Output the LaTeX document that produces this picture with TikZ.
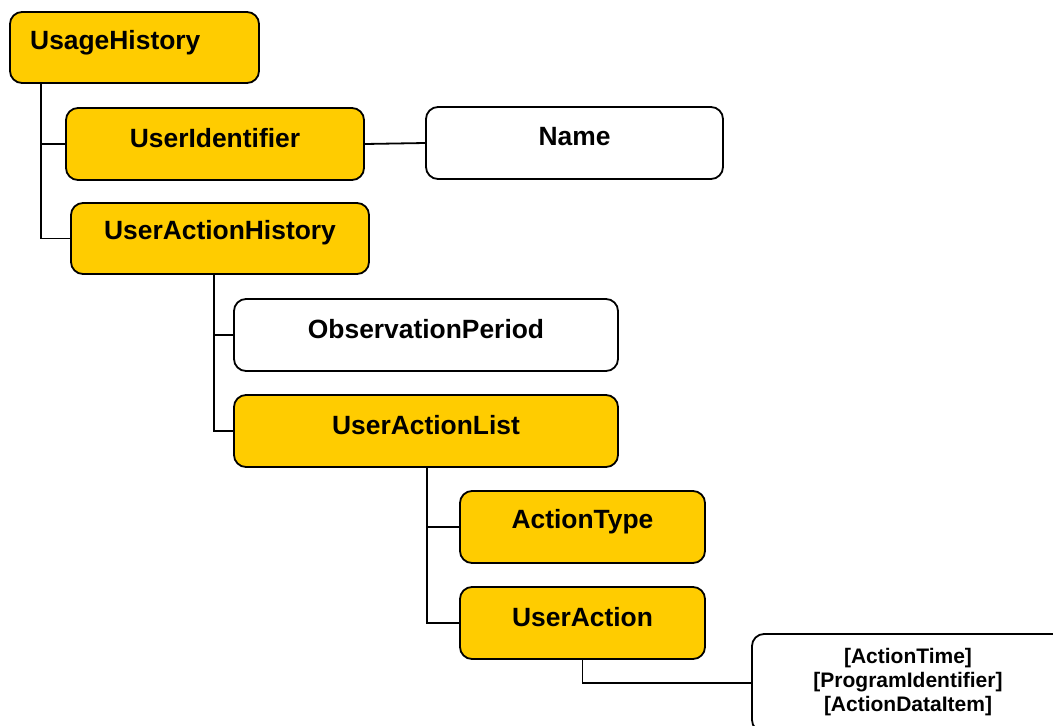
\documentclass[tikz,border=0pt]{standalone}
\usepackage{fontspec}
\setmainfont{Liberation Sans}
\begin{document}
\begin{tikzpicture}[x=1pt, y=-1pt,
  box/.style={draw=black, line width=1.8pt, rounded corners=12pt, inner sep=0pt},
  ybox/.style={box, fill=gold},
  wbox/.style={box, fill=white},
  lbl/.style={font=\fontsize{26.4}{30}\selectfont\bfseries, inner sep=0pt},
  small/.style={font=\fontsize{21}{24}\selectfont\bfseries, inner sep=0pt, align=center},
  link/.style={draw=black, line width=1.8pt}
]
\definecolor{gold}{RGB}{255,204,0}
\useasboundingbox (0,0) rectangle (1053,726);
\clip (0,0) rectangle (1053,726);

% boxes
\node[ybox, minimum width=249pt, minimum height=71pt] (UH) at (134.5,47.5) {};
\node[ybox, minimum width=298pt, minimum height=72pt] (UI) at (215,144) {};
\node[wbox, minimum width=297pt, minimum height=72pt] (NM) at (574.5,143) {};
\node[ybox, minimum width=298pt, minimum height=71pt] (UAH) at (220,238.5) {};
\node[wbox, minimum width=384pt, minimum height=72pt] (OP) at (426,335) {};
\node[ybox, minimum width=384pt, minimum height=72pt] (UAL) at (426,431) {};
\node[ybox, minimum width=245pt, minimum height=72pt] (AT) at (582.5,527) {};
\node[ybox, minimum width=245pt, minimum height=72pt] (UA) at (582.5,623) {};
\node[wbox, minimum width=313pt, minimum height=98pt] (AD) at (908.5,683) {};

% labels
\node[lbl, anchor=west] (tUH) at (30,43) {UsageHistory};
\node[lbl, yshift=6pt] (tUI) at (UI.center) {UserIdentifier};
\node[lbl, yshift=6pt] (tNM) at (NM.center) {Name};
\node[lbl, yshift=5.5pt] (tUAH) at (UAH.center) {UserActionHistory};
\node[lbl, yshift=6pt] (tOP) at (OP.center) {ObservationPeriod};
\node[lbl, yshift=6pt] (tUAL) at (UAL.center) {UserActionList};
\node[lbl, yshift=5pt] (tAT) at (AT.center) {ActionType};
\node[lbl, yshift=6pt] (tUA) at (UA.center) {UserAction};
\node[small] (tAD) at (908,682) {{[ActionTime]}\\{[ProgramIdentifier]}\\{[ActionDataItem]}};

% connectors
\draw[link] ([xshift=32pt]UH.south west) |- (UI.west);
\draw[link] ([xshift=32pt]UH.south west) |- (UAH.west);
\draw[link] (UI.east) -- (NM.west);
\draw[link] ([xshift=144pt]UAH.south west) |- (OP.west);
\draw[link] ([xshift=144pt]UAH.south west) |- (UAL.west);
\draw[link] ([xshift=194pt]UAL.south west) |- (AT.west);
\draw[link] ([xshift=194pt]UAL.south west) |- (UA.west);
\draw[link] (UA.south) |- (AD.west);
\end{tikzpicture}
\end{document}
